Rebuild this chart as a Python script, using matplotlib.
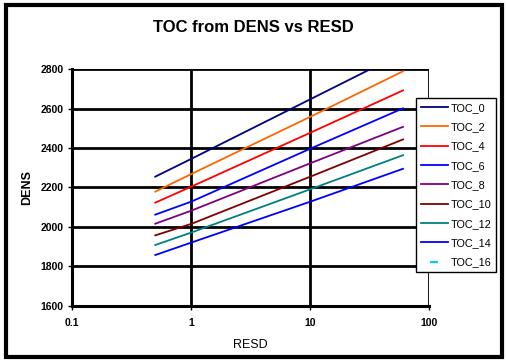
import matplotlib
matplotlib.use("Agg")
import matplotlib.pyplot as plt
from matplotlib.patches import Rectangle

plt.rcParams['font.family'] = ['Liberation Sans', 'DejaVu Sans']

# RESD sample points (log axis)
resd = [0.5, 1, 10, 60]

# DENS values per TOC curve
toc_0 = [2255, 2345, 2648, 2884]
toc_2 = [2179, 2268, 2559, 2790]
toc_4 = [2123, 2204, 2478, 2693]
toc_6 = [2062, 2128, 2397, 2602]
toc_8 = [2016, 2082, 2323, 2508]
toc_10 = [1957, 2015, 2255, 2444]
toc_12 = [1908, 1971, 2191, 2364]
toc_14 = [1857, 1920, 2128, 2295]
toc_16 = []

labels = ['TOC_0', 'TOC_2', 'TOC_4', 'TOC_6', 'TOC_8', 'TOC_10', 'TOC_12', 'TOC_14']
series = [toc_0, toc_2, toc_4, toc_6, toc_8, toc_10, toc_12, toc_14]
colors = ['#000080', '#FF6600', '#FF0000', '#0000FF', '#800080', '#800000', '#008080', '#0000FF']

fig = plt.figure(figsize=(5.07, 3.63), dpi=100)
ax = fig.add_axes([0.142, 0.158, 0.705, 0.651])

for lab, vals, c in zip(labels, series, colors):
    ax.plot(resd, vals, color=c, lw=1.3, label=lab)
ax.plot(resd[:len(toc_16)], toc_16, color='#00CCFF', lw=0, marker='_',
        markersize=6, markeredgewidth=1.5, label='TOC_16')

ax.set_xscale('log')
ax.set_xlim(0.1, 100)
ax.set_ylim(1600, 2800)
ax.set_yticks(range(1600, 2801, 200))
ax.set_xticks([0.1, 1, 10, 100])
ax.set_xticklabels(['0.1', '1', '10', '100'])
ax.minorticks_off()
ax.grid(True, color='black', lw=2)
ax.set_axisbelow(True)
for s in ['top', 'right']:
    ax.spines[s].set_visible(False)
for s in ['left', 'bottom']:
    ax.spines[s].set_linewidth(2.2)
ax.tick_params(length=3, width=1, labelsize=7.5, pad=3)
for t in ax.get_xticklabels() + ax.get_yticklabels():
    t.set_fontweight('bold')
ax.xaxis.set_tick_params(pad=6)

ax.set_xlabel('RESD', fontsize=9, labelpad=8)
ax.set_ylabel('DENS', fontsize=9, fontweight='bold', labelpad=5)

fig.text(0.5, 0.925, 'TOC from DENS vs RESD', ha='center', va='center',
         fontsize=12, fontweight='bold')

leg = ax.legend(loc='upper left', bbox_to_anchor=(0.820, 0.730),
                bbox_transform=fig.transFigure, fontsize=7.8, frameon=True,
                fancybox=False, edgecolor='black', framealpha=1,
                handlelength=2.5, handletextpad=0.28, labelspacing=0.86,
                borderpad=0.45, borderaxespad=0)
leg.get_frame().set_linewidth(1)

fig.patches.append(Rectangle((0.012, 0.017), 0.978, 0.968, transform=fig.transFigure,
                             fill=False, edgecolor='black', lw=3))

fig.savefig('out.png', dpi=100)
